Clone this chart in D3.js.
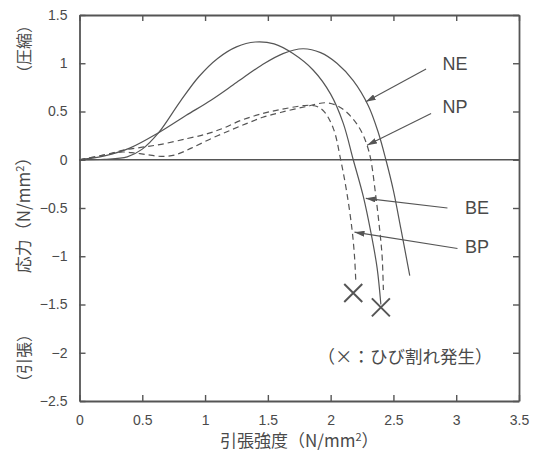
<!DOCTYPE html>
<html>
<head>
<meta charset="utf-8">
<script src="https://cdn.jsdelivr.net/npm/d3@7"></script>
<style>
  body { margin: 0; background: #fff; }
  text { font-family: "Liberation Sans", Arial, "Noto Sans CJK JP", sans-serif; fill: #4a4a4a; }
  .jp { font-family: "Noto Sans CJK JP", sans-serif; }
</style>
</head>
<body>
<div id="chart"></div>
<script>
// tick values
const xTicks = [0, 0.5, 1, 1.5, 2, 2.5, 3, 3.5];
const yTicks = [1.5, 1, 0.5, 0, -0.5, -1, -1.5, -2, -2.5];

// series, [tensile strength, stress]
const seriesNE = [[0,0],[0.2,0.04],[0.4,0.12],[0.63,0.28],[0.85,0.46],[1.05,0.62],[1.25,0.8],[1.45,0.98],[1.62,1.1],[1.78,1.15],[1.92,1.11],[2.05,1.0],[2.18,0.82],[2.3,0.56],[2.38,0.28],[2.44,0],[2.5,-0.32],[2.56,-0.72],[2.63,-1.2]];
const seriesBE = [[0,0],[0.2,0.005],[0.38,0.03],[0.5,0.11],[0.63,0.28],[0.8,0.6],[0.95,0.86],[1.1,1.05],[1.25,1.17],[1.4,1.22],[1.55,1.2],[1.7,1.1],[1.86,0.93],[2.0,0.68],[2.1,0.38],[2.18,0],[2.26,-0.38],[2.32,-0.75],[2.37,-1.12],[2.4,-1.5]];
const seriesNP = [[0,0],[0.2,0.05],[0.33,0.08],[0.44,0.07],[0.55,0.05],[0.65,0.035],[0.76,0.05],[0.89,0.12],[1.05,0.22],[1.21,0.31],[1.34,0.38],[1.46,0.44],[1.6,0.49],[1.8,0.55],[1.97,0.59],[2.08,0.54],[2.18,0.42],[2.25,0.28],[2.29,0.15],[2.32,0],[2.36,-0.38],[2.39,-0.72],[2.41,-1.0],[2.42,-1.35]];
const seriesBP = [[0,0],[0.2,0.05],[0.35,0.1],[0.5,0.13],[0.65,0.16],[0.86,0.22],[1.02,0.27],[1.15,0.33],[1.29,0.41],[1.46,0.48],[1.6,0.52],[1.78,0.56],[1.87,0.56],[1.94,0.51],[2.02,0.33],[2.08,0],[2.13,-0.35],[2.17,-0.72],[2.19,-1.0],[2.2,-1.25]];

// crack points (x marks)
const crackPoints = [[2.18,-1.38],[2.4,-1.53]];

// label names and their arrows: text pos, arrow start, arrow tip
const labelNames = ["NE", "NP", "BE", "BP"];
const labelText = [[2.89,0.93],[2.89,0.48],[3.07,-0.56],[3.07,-0.97]];
const arrowFrom = [[2.76,0.94],[2.8,0.48],[2.93,-0.5],[3.01,-0.92]];
const arrowTo = [[2.28,0.6],[2.29,0.15],[2.28,-0.4],[2.19,-0.75]];

const margin = {top: 15, right: 22, bottom: 52, left: 79.5},
  width = 541 - margin.left - margin.right,
  height = 453 - margin.top - margin.bottom,
  ink = "#555";

const svg = d3.select("#chart").append("svg")
  .attr("width", 541).attr("height", 453)
  .append("g")
  .attr("transform", "translate(" + margin.left + "," + margin.top + ")");

const x = d3.scaleLinear().domain([0, 3.5]).range([0, width]);
const y = d3.scaleLinear().domain([-2.5, 1.5]).range([height, 0]);

// ticks inward on all four sides
svg.append("g").attr("transform", "translate(0," + height + ")")
  .call(d3.axisBottom(x).tickValues(xTicks).tickSizeInner(-6).tickSizeOuter(0).tickPadding(14).tickFormat(d3.format("")));
svg.append("g")
  .call(d3.axisTop(x).tickValues(xTicks).tickSizeInner(-6).tickSizeOuter(0).tickFormat(""));
svg.append("g")
  .call(d3.axisLeft(y).tickValues(yTicks).tickSizeInner(-6).tickSizeOuter(0).tickPadding(12).tickFormat(d3.format("")));
svg.append("g").attr("transform", "translate(" + width + ",0)")
  .call(d3.axisRight(y).tickValues(yTicks).tickSizeInner(-6).tickSizeOuter(0).tickFormat(""));

svg.selectAll(".domain").attr("stroke", ink).attr("stroke-width", 1.8);
svg.selectAll(".tick line").attr("stroke", ink).attr("stroke-width", 1.4);
svg.selectAll(".tick text").style("font-size", "14px").attr("fill", "#4a4a4a");

// zero line
svg.append("line")
  .attr("x1", 0).attr("x2", width)
  .attr("y1", y(0)).attr("y2", y(0))
  .attr("stroke", ink).attr("stroke-width", 1.5);

const line = d3.line()
  .x(function(d) { return x(d[0]); })
  .y(function(d) { return y(d[1]); })
  .curve(d3.curveCatmullRom.alpha(0.5));

[seriesNE, seriesBE].forEach(function(s) {
  svg.append("path").datum(s)
    .attr("fill", "none").attr("stroke", ink).attr("stroke-width", 1.2)
    .attr("d", line);
});
[seriesNP, seriesBP].forEach(function(s) {
  svg.append("path").datum(s)
    .attr("fill", "none").attr("stroke", ink).attr("stroke-width", 1.2)
    .attr("stroke-dasharray", "6,4")
    .attr("d", line);
});

// crack marks
const m = 9;
crackPoints.forEach(function(p) {
  const cx = x(p[0]), cy = y(p[1]);
  svg.append("path")
    .attr("d", "M" + (cx - m) + "," + (cy - m) + "L" + (cx + m) + "," + (cy + m) +
               "M" + (cx - m) + "," + (cy + m) + "L" + (cx + m) + "," + (cy - m))
    .attr("stroke", ink).attr("stroke-width", 2).attr("fill", "none");
});

// arrow head marker
svg.append("defs").append("marker")
  .attr("id", "head").attr("viewBox", "0 0 10 6")
  .attr("refX", 10).attr("refY", 3)
  .attr("markerWidth", 10).attr("markerHeight", 6)
  .attr("markerUnits", "userSpaceOnUse").attr("orient", "auto")
  .append("path").attr("d", "M0,0L10,3L0,6Z").attr("fill", ink);

labelNames.forEach(function(name, i) {
  svg.append("line")
    .attr("x1", x(arrowFrom[i][0])).attr("y1", y(arrowFrom[i][1]))
    .attr("x2", x(arrowTo[i][0])).attr("y2", y(arrowTo[i][1]))
    .attr("stroke", ink).attr("stroke-width", 1.1)
    .attr("marker-end", "url(#head)");
  svg.append("text")
    .attr("x", x(labelText[i][0])).attr("y", y(labelText[i][1]))
    .style("font-size", "18px")
    .text(name);
});

// note
svg.append("text").attr("class", "jp")
  .attr("x", 405 - margin.left).attr("y", 363 - margin.top)
  .attr("text-anchor", "middle")
  .style("font-size", "17.5px")
  .text("（×：ひび割れ発生）");

// x axis title
const xt = svg.append("text").attr("class", "jp")
  .attr("x", width / 2).attr("y", height + 46)
  .attr("text-anchor", "middle")
  .style("font-size", "17px");
xt.append("tspan").text("引張強度（N/mm");
xt.append("tspan").attr("dy", -6).style("font-size", "11px").text("2");
xt.append("tspan").attr("dy", 6).text("）");

// y axis titles (rotated)
function vText(cy, size, parts) {
  const t = svg.append("text").attr("class", "jp")
    .attr("transform", "translate(" + (30 - margin.left) + "," + (cy - margin.top) + ") rotate(-90)")
    .attr("text-anchor", "middle")
    .style("font-size", size);
  parts.forEach(function(p) {
    t.append("tspan").attr("dy", p.dy || 0).style("font-size", p.size || null).text(p.t);
  });
}
vText(211, "17px", [{t: "応力（N/mm"}, {t: "2", dy: -6, size: "11px"}, {t: "）", dy: 6}]);
vText(49, "16px", [{t: "（圧縮）"}]);
vText(358, "16px", [{t: "（引張）"}]);
</script>
</body>
</html>
